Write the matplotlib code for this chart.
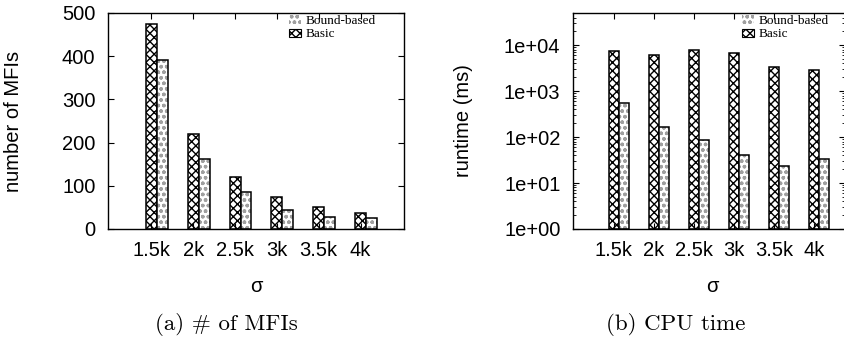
import numpy as np
import matplotlib
matplotlib.use("Agg")
import matplotlib.pyplot as plt
from matplotlib.patches import Patch
from matplotlib.ticker import LogLocator, NullFormatter

# valores
sigma = ['1.5k', '2k', '2.5k', '3k', '3.5k', '4k']
mfi_basic = [475, 221, 120, 74, 52, 38]
mfi_bound = [392, 161, 85, 45, 27, 25]
time_basic = [7400, 6000, 7800, 6600, 3400, 2900]
time_bound = [550, 165, 88, 40, 23, 33]
log_ticks = [1, 10, 100, 1000, 10000]
log_labels = ['1e+00', '1e+01', '1e+02', '1e+03', '1e+04']

plt.rcParams['font.family'] = ['Liberation Sans', 'DejaVu Sans']
plt.rcParams['hatch.linewidth'] = 1.0

FS = 14.5
W = 0.26
BASIC_HATCH = 'xxxx'
BOUND_HATCH = 'ooo...'
BOUND_COLOR = '#a0a0a0'


def draw_bars(ax, basic, bound, bottom=0):
    x = np.arange(len(sigma))
    ax.bar(x - W / 2, np.array(basic) - bottom, W, bottom=bottom, facecolor='white',
           edgecolor='black', hatch=BASIC_HATCH, linewidth=1.1)
    ax.bar(x + W / 2, np.array(bound) - bottom, W, bottom=bottom, facecolor='white',
           edgecolor=BOUND_COLOR, hatch=BOUND_HATCH, linewidth=0)
    ax.bar(x + W / 2, np.array(bound) - bottom, W, bottom=bottom, fill=False,
           edgecolor='black', linewidth=1.1)
    ax.set_xticks(x - 0.13)
    ax.set_xticklabels(sigma, fontsize=FS)
    ax.tick_params(axis='x', which='both', direction='in', top=True, bottom=True,
                   length=4, pad=9)
    ax.tick_params(axis='y', which='major', direction='in', right=True, length=4,
                   labelsize=FS, pad=9)
    ax.tick_params(axis='y', which='minor', direction='in', right=True, length=2)
    for s in ax.spines.values():
        s.set_linewidth(1.0)


def add_legend(ax, x0):
    handles = [Patch(facecolor='white', edgecolor=BOUND_COLOR, hatch=BOUND_HATCH, linewidth=0),
               Patch(facecolor='white', edgecolor='black', hatch=BASIC_HATCH, linewidth=0.8)]
    ax.legend(handles, ['Bound-based', 'Basic'], loc='upper left',
              bbox_to_anchor=(x0, 0.99), frameon=False, borderpad=0, borderaxespad=0,
              handlelength=0.9, handleheight=0.6, handletextpad=0.35, labelspacing=0.1,
              prop={'family': 'Liberation Serif', 'size': 9.5})


fig = plt.figure(figsize=(8.45, 3.44), dpi=100)

ax1 = fig.add_axes([108 / 845, 1 - 229 / 344, 296 / 845, 216 / 344])
draw_bars(ax1, mfi_basic, mfi_bound)
ax1.set_xlim(-1.17, 5.91)
ax1.set_ylim(0, 500)
ax1.set_yticks([0, 100, 200, 300, 400, 500])
ax1.set_ylabel('number of MFIs', fontsize=FS)
ax1.yaxis.set_label_coords(-0.287, 0.5)
add_legend(ax1, 0.611)

ax2 = fig.add_axes([573 / 845, 1 - 229 / 344, 272 / 845, 216 / 344])
ax2.set_yscale('log')
draw_bars(ax2, time_basic, time_bound, bottom=1)
ax2.set_xlim(-1.15, 5.65)
ax2.set_ylim(1, 10 ** 4.7)
ax2.set_yticks(log_ticks)
ax2.set_yticklabels(log_labels)
ax2.yaxis.set_minor_locator(LogLocator(base=10, subs=np.arange(2, 10)))
ax2.yaxis.set_minor_formatter(NullFormatter())
ax2.set_ylabel('runtime (ms)', fontsize=FS)
ax2.yaxis.set_label_coords(-0.368, 0.5)
add_legend(ax2, 0.621)

fig.text(256 / 845, 1 - 287 / 344, 'σ', fontsize=FS, ha='center', va='center')
fig.text(712 / 845, 1 - 287 / 344, 'σ', fontsize=FS, ha='center', va='center')
fig.text(226 / 845, 1 - 325 / 344, '(a) # of MFIs', family='cmr10', fontsize=16.5,
         ha='center', va='center')
fig.text(676 / 845, 1 - 325 / 344, '(b) CPU time', family='cmr10', fontsize=16.5,
         ha='center', va='center')

fig.savefig('out.png', dpi=100)
